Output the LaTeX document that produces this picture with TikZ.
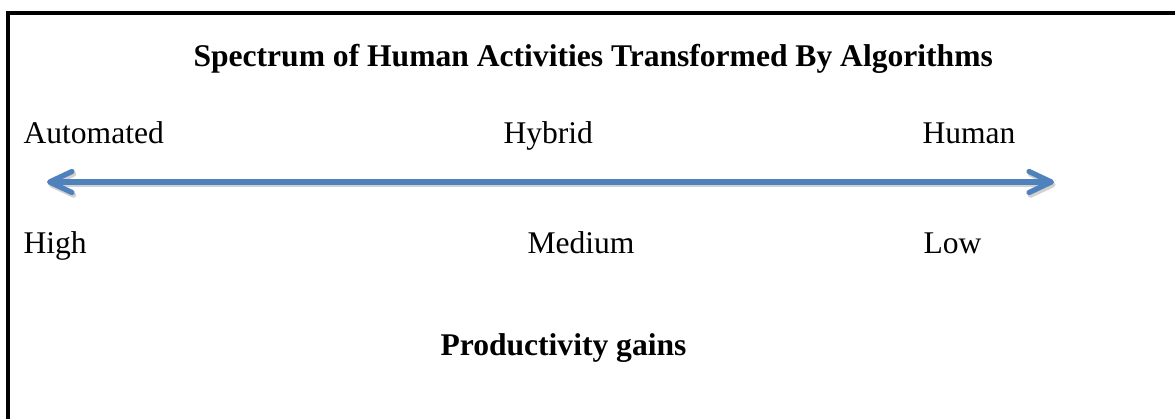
\documentclass[tikz,border=0pt]{standalone}
\usepackage{fontspec}
\setmainfont{Liberation Serif}
\usetikzlibrary{arrows.meta}
\definecolor{axisblue}{RGB}{79,129,189}
\begin{document}
\begin{tikzpicture}[x=0.38pt, y=-0.38pt]

      \tikzset{lbl/.style={anchor=base west, inner sep=0pt, font=\fontsize{12}{14}\selectfont},
               head/.style={lbl, font=\fontsize{12}{14}\selectfont\bfseries},
               spectrum/.style={draw=axisblue, line width=2pt, line cap=round,
                 {Straight Barb[length=8.5pt, width=8pt, round]}-{Straight Barb[length=8.5pt, width=8pt, round]}}}
      \useasboundingbox (0,0) rectangle (1175,419);
%% Frame
      	\draw[line width=1.2pt] (8,419) -- (8,13) -- (1175,13);
%% Labels
      	\node[head] (title) at (193,66) {Spectrum of Human Activities Transformed By Algorithms};
      	\node[lbl] (auto) at (23,143) {Automated};
      	\node[lbl] (hybrid) at (503,143) {Hybrid};
      	\node[lbl] (human) at (922,143) {Human};
      	\node[lbl] (high) at (23,253) {High};
      	\node[lbl] (medium) at (527,253) {Medium};
      	\node[lbl] (low) at (923,253) {Low};
      	\node[head] (gains) at (440,355) {Productivity gains};
%Arrow
      	\coordinate (left) at (47,182);
      	\coordinate (right) at (1054,182);
		\draw[spectrum, draw=black!18, transform canvas={xshift=0.6pt, yshift=-1pt}] (left) -- (right);
		\draw[spectrum] (left) -- (right);

	\end{tikzpicture}
\end{document}
